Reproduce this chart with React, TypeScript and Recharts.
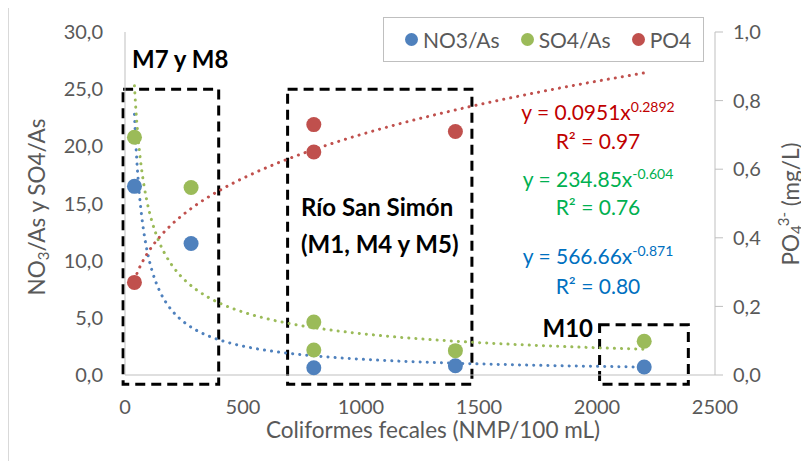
import {
  ComposedChart,
  Scatter,
  Line,
  XAxis,
  YAxis,
  Legend,
  ReferenceArea,
} from "recharts";

// sample points
const no3X = [40, 280, 800, 1400, 2200];
const no3Y = [16.5, 11.5, 0.64, 0.81, 0.7];
const so4X = [40, 280, 800, 800, 1400, 2200];
const so4Y = [20.8, 16.4, 4.64, 2.19, 2.13, 2.95];
const po4X = [40, 800, 800, 1400];
const po4Y = [0.27, 0.73, 0.65, 0.71];

// power trend lines as printed on the chart (y = a * x^b)
const no3Fit = [566.66, -0.871];
const so4Fit = [234.85, -0.604];
const po4Fit = [0.0951, 0.2892];
const trendX = [
  40, 45, 50, 55, 60, 70, 80, 90, 100, 115, 130, 150, 175, 200, 230, 260, 300,
  350, 400, 460, 520, 600, 700, 800, 900, 1000, 1150, 1300, 1450, 1600, 1800,
  2000, 2200,
];

const xTicks = [0, 500, 1000, 1500, 2000, 2500];
const leftTicks = [0, 5, 10, 15, 20, 25, 30];
const rightTicks = [0, 0.2, 0.4, 0.6, 0.8, 1.0];

const BLUE = "#4F81BD";
const GREEN = "#9BBB59";
const RED = "#C0504D";
const GREY = "#595959";
const FONT = "Lato, 'Open Sans', sans-serif";

const toPoints = (xs: number[], ys: number[]) =>
  xs.map((x, i) => ({ x, y: ys[i] }));
const toTrend = (fit: number[]) =>
  trendX.map((x) => ({ x, y: fit[0] * Math.pow(x, fit[1]) }));

const no3Data = toPoints(no3X, no3Y);
const so4Data = toPoints(so4X, so4Y);
const po4Data = toPoints(po4X, po4Y);

const comma1 = (v: number) => v.toFixed(1).replace(".", ",");

const dot = (color: string) => (p: any) =>
  <circle cx={p.cx} cy={p.cy} r={7.5} fill={color} />;

const legendItems = [
  { name: "NO3/As", color: BLUE },
  { name: "SO4/As", color: GREEN },
  { name: "PO4", color: RED },
];

function LegendBox() {
  return (
    <div
      style={{
        display: "flex",
        alignItems: "center",
        height: 45,
        border: "1px solid #bfbfbf",
        background: "#fff",
        paddingLeft: 21,
        boxSizing: "border-box",
        fontFamily: FONT,
        fontSize: 21,
        color: GREY,
      }}
    >
      {legendItems.map((it) => (
        <div
          key={it.name}
          style={{ display: "flex", alignItems: "center", marginRight: 21 }}
        >
          <span
            style={{
              width: 13,
              height: 13,
              borderRadius: "50%",
              background: it.color,
              marginRight: 5,
            }}
          />
          <span>{it.name}</span>
        </div>
      ))}
    </div>
  );
}

const boxStyle = {
  stroke: "#000",
  strokeWidth: 3,
  strokeDasharray: "10 6",
  fill: "none",
  fillOpacity: 0,
};

const trendProps = {
  type: "monotone" as const,
  dataKey: "y",
  dot: false,
  activeDot: false,
  strokeWidth: 3,
  strokeDasharray: "0.1 7",
  strokeLinecap: "round" as const,
  isAnimationActive: false,
  legendType: "none" as const,
};

const bold = { fontSize: 24, fontWeight: 700, fill: "#000" };

export default function App() {
  return (
    <div style={{ position: "relative", width: 801, height: 453, fontFamily: FONT }}>
      <div
        style={{
          position: "absolute",
          left: 0,
          top: -1,
          width: 803,
          height: 460,
          border: "1.5px solid #d9d9d9",
          pointerEvents: "none",
        }}
      />
      <ComposedChart
        width={801}
        height={453}
        margin={{ top: 24, right: 0, bottom: 0, left: 0 }}
      >
        <XAxis
          xAxisId="x"
          dataKey="x"
          type="number"
          domain={[0, 2500]}
          ticks={xTicks}
          allowDataOverflow
          height={86}
          stroke="#bfbfbf"
          tickLine={false}
          tickSize={0}
          tickMargin={25}
          tick={{ fill: GREY, fontSize: 20 }}
        />
        <YAxis
          yAxisId="left"
          orientation="left"
          type="number"
          domain={[0, 30]}
          ticks={leftTicks}
          width={117}
          stroke="#bfbfbf"
          tickLine={false}
          tickSize={0}
          tickMargin={22}
          tickFormatter={comma1}
          tick={{ fill: GREY, fontSize: 20 }}
        />
        <YAxis
          yAxisId="right"
          orientation="right"
          type="number"
          domain={[0, 1]}
          ticks={rightTicks}
          width={94}
          stroke="#bfbfbf"
          tickSize={8}
          tickMargin={10}
          tickFormatter={comma1}
          tick={{ fill: GREY, fontSize: 20 }}
        />

        <ReferenceArea xAxisId="x" yAxisId="left" x1={-8} x2={397} y1={-0.8} y2={25} ifOverflow="visible" {...boxStyle} />
        <ReferenceArea xAxisId="x" yAxisId="left" x1={689} x2={1470} y1={-0.8} y2={25} ifOverflow="visible" {...boxStyle} />
        <ReferenceArea xAxisId="x" yAxisId="left" x1={2011} x2={2387} y1={-0.8} y2={4.4} ifOverflow="visible" {...boxStyle} />

        <Line {...trendProps} data={toTrend(no3Fit)} xAxisId="x" yAxisId="left" stroke={BLUE} name="tNO3" />
        <Line {...trendProps} data={toTrend(so4Fit)} xAxisId="x" yAxisId="left" stroke={GREEN} name="tSO4" />
        <Line {...trendProps} data={toTrend(po4Fit)} xAxisId="x" yAxisId="right" stroke={RED} name="tPO4" />

        <Scatter name="NO3/As" data={no3Data} dataKey="y" xAxisId="x" yAxisId="left" fill={BLUE} shape={dot(BLUE)} isAnimationActive={false} />
        <Scatter name="SO4/As" data={so4Data} dataKey="y" xAxisId="x" yAxisId="left" fill={GREEN} shape={dot(GREEN)} isAnimationActive={false} />
        <Scatter name="PO4" data={po4Data} dataKey="y" xAxisId="x" yAxisId="right" fill={RED} shape={dot(RED)} isAnimationActive={false} />

        <Legend
          layout="horizontal"
          verticalAlign="middle"
          align="center"
          content={() => <LegendBox />}
          wrapperStyle={{ left: 375, top: 9, width: 321, height: 45 }}
        />

        {/* axis titles */}
        <text x={425} y={430} textAnchor="middle" fill={GREY} fontSize={22.5}>
          Coliformes fecales (NMP/100 mL)
        </text>
        <text x={37} y={199} textAnchor="middle" fill={GREY} fontSize={22.5} transform="rotate(-90 37 199)">
          NO<tspan fontSize={15} dy={4}>3</tspan>
          <tspan dy={-4}>/As y SO4/As</tspan>
        </text>
        <text x={791} y={196} textAnchor="middle" fill={GREY} fontSize={22.5} transform="rotate(-90 791 196)">
          PO<tspan fontSize={15} dy={3}>4</tspan>
          <tspan fontSize={15} dx={-1} dy={-13}>3-</tspan>
          <tspan dy={10}> (mg/L)</tspan>
        </text>

        {/* group labels */}
        <text x={124} y={60} {...bold}>M7 y M8</text>
        <text x={293} y={208} {...bold}>Río San Simón</text>
        <text x={293} y={245} {...bold}>(M1, M4 y M5)</text>
        <text x={585} y={329} {...bold} textAnchor="end">M10</text>

        {/* fit equations */}
        <text x={590} y={112} textAnchor="middle" fill="#C00000" fontSize={21}>
          y = 0.0951x<tspan fontSize={14} dy={-8}>0.2892</tspan>
        </text>
        <text x={590} y={141} textAnchor="middle" fill="#C00000" fontSize={21}>R² = 0.97</text>
        <text x={590} y={179} textAnchor="middle" fill="#00B050" fontSize={21}>
          y = 234.85x<tspan fontSize={14} dy={-8}>-0.604</tspan>
        </text>
        <text x={590} y={207} textAnchor="middle" fill="#00B050" fontSize={21}>R² = 0.76</text>
        <text x={590} y={256} textAnchor="middle" fill="#0070C0" fontSize={21}>
          y = 566.66x<tspan fontSize={14} dy={-8}>-0.871</tspan>
        </text>
        <text x={590} y={286} textAnchor="middle" fill="#0070C0" fontSize={21}>R² = 0.80</text>
      </ComposedChart>
    </div>
  );
}
